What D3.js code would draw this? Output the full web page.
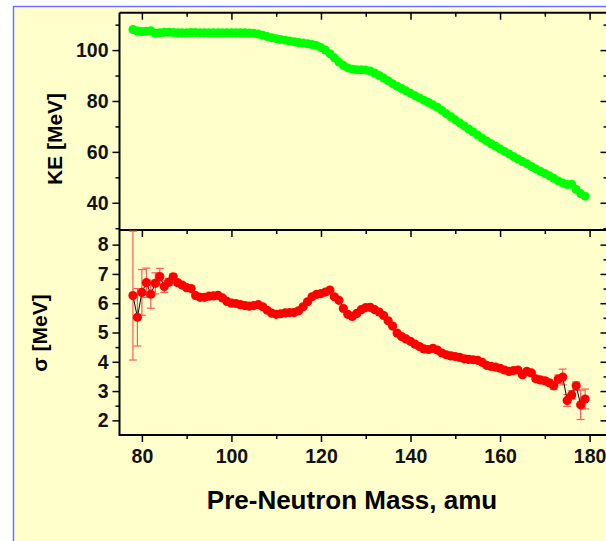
<!DOCTYPE html>
<html>
<head>
<meta charset="utf-8">
<script src="https://cdn.jsdelivr.net/npm/d3@7/dist/d3.min.js"></script>
<style>
  html, body { margin: 0; padding: 0; background: #fff; }
  svg { display: block; }
  .tick text { font-family: "Liberation Sans", Arial, sans-serif; font-weight: bold; }
</style>
</head>
<body>
<div id="chart"></div>
<script>
// masses 78..179 (one point per amu)
const mass = [78,79,80,81,82,83,84,85,86,87,88,89,90,91,92,93,94,95,96,97,98,99,
  100,101,102,103,104,105,106,107,108,109,110,111,112,113,114,115,116,117,118,119,
  120,121,122,123,124,125,126,127,128,129,130,131,132,133,134,135,136,137,138,139,
  140,141,142,143,144,145,146,147,148,149,150,151,152,153,154,155,156,157,158,159,
  160,161,162,163,164,165,166,167,168,169,170,171,172,173,174,175,176,177,178,179];

// mean kinetic energy, MeV
const keMean = [108.1,107.5,107.3,107.4,107.6,106.6,106.8,107.0,107.0,106.9,106.8,106.8,106.8,106.9,106.9,106.8,106.8,106.8,106.8,106.8,106.8,106.8,
  106.8,106.8,106.8,106.8,106.7,106.6,106.3,105.8,105.3,104.9,104.5,104.2,103.9,103.6,103.3,103.0,102.8,102.5,102.2,101.8,
  101.0,100.0,98.6,97.0,95.3,94.0,93.0,92.5,92.3,92.3,92.2,91.8,91.0,90.0,89.0,88.0,86.8,85.8,84.9,84.0,
  83.0,82.1,81.2,80.3,79.4,78.5,77.5,76.3,75.0,73.8,72.6,71.4,70.2,69.0,67.8,66.6,65.4,64.3,63.2,62.2,
  61.2,60.2,59.2,58.2,57.2,56.2,55.3,54.3,53.3,52.4,51.5,50.6,49.6,48.6,47.8,47.2,47.3,45.2,43.6,42.6];

// width of KE distribution, MeV
const sigma = [6.26,5.52,6.37,6.70,6.31,6.68,6.91,6.57,6.72,6.90,6.70,6.62,6.53,6.50,6.26,6.20,6.20,6.24,6.25,6.27,6.18,6.06,
  6.00,5.99,5.95,5.92,5.90,5.92,5.95,5.88,5.76,5.66,5.62,5.64,5.67,5.68,5.68,5.74,5.88,6.05,6.22,6.30,
  6.33,6.38,6.45,6.22,6.10,5.82,5.62,5.55,5.65,5.78,5.85,5.86,5.78,5.70,5.58,5.40,5.22,4.98,4.86,4.78,
  4.70,4.60,4.52,4.44,4.42,4.46,4.40,4.30,4.24,4.20,4.18,4.15,4.10,4.08,4.07,4.05,3.98,3.88,3.84,3.82,
  3.78,3.72,3.67,3.70,3.72,3.56,3.67,3.62,3.42,3.38,3.35,3.28,3.18,3.41,3.48,2.68,2.87,3.18,2.53,2.73];

const sigmaErr = [2.20,0.98,0.78,0.50,0.48,0.36,0.28,0.20,0.12,0.10,0.08,0.08,0.07,0.07,0.06,0.06,0.06,0.06,0.05,0.05,0.05,0.05,
  0.05,0.05,0.05,0.05,0.05,0.05,0.05,0.05,0.05,0.05,0.05,0.05,0.05,0.05,0.05,0.05,0.05,0.05,0.05,0.05,
  0.05,0.05,0.05,0.05,0.05,0.05,0.05,0.05,0.05,0.05,0.05,0.05,0.05,0.05,0.05,0.05,0.05,0.05,0.05,0.05,
  0.05,0.05,0.05,0.05,0.05,0.05,0.05,0.05,0.05,0.05,0.05,0.05,0.05,0.05,0.05,0.05,0.05,0.06,0.06,0.06,
  0.06,0.06,0.06,0.07,0.07,0.07,0.08,0.08,0.08,0.09,0.10,0.10,0.12,0.14,0.27,0.20,0.14,0.13,0.50,0.34];

const xTicks = [80, 100, 120, 140, 160, 180];
const keTicks = [40, 60, 80, 100];
const sigmaTicks = [2, 3, 4, 5, 6, 7, 8];

const width = 606, height = 541;
const left = 119.5, right = 607.5;
const topY = 12.7, midY = 230, bottomY = 435;

const svg = d3.select("#chart").append("svg")
  .attr("width", width)
  .attr("height", height);

// page frame
svg.append("rect")
  .attr("x", 13.5).attr("y", 6.5)
  .attr("width", 640).attr("height", 600)
  .attr("fill", "#ffffcc")
  .attr("stroke", "#7070ff")
  .attr("stroke-width", 1.5);

const x = d3.scaleLinear().domain([75, 184]).range([left, right]);
const yKE = d3.scaleLinear().domain([29.3, 114.7]).range([midY, topY]);
const ySig = d3.scaleLinear().domain([1.5, 8.5]).range([bottomY, midY]);

const minorX = d3.range(80, 185, 10).filter(v => !xTicks.includes(v));
const minorKE = [30, 50, 70, 90, 110];
const minorSig = d3.range(2.5, 8.5, 1);

function styleAxis(g) {
  g.select(".domain").remove();
  g.selectAll(".tick line").attr("stroke", "#000").attr("stroke-width", 1.5);
  g.selectAll(".tick text").attr("fill", "#111").style("font-size", "19.5px");
}

// axes: major + minor ticks on each side
function drawAxis(axisFn, scale, transform, major, minor, inner, labels) {
  const gMaj = svg.append("g").attr("transform", transform)
    .call(axisFn(scale).tickValues(major).tickSize(inner ? -7 : 7)
      .tickPadding(inner ? 0 : 4).tickFormat(labels ? d3.format("d") : ""));
  styleAxis(gMaj);
  const gMin = svg.append("g").attr("transform", transform)
    .call(axisFn(scale).tickValues(minor).tickSize(inner ? -4 : 4).tickFormat(""));
  styleAxis(gMin);
  return gMaj;
}

// top panel
drawAxis(d3.axisLeft, yKE, `translate(${left},0)`, keTicks, minorKE, false, true);
drawAxis(d3.axisRight, yKE, `translate(${right},0)`, keTicks, minorKE, true, false);
drawAxis(d3.axisTop, x, `translate(0,${topY})`, xTicks, minorX, true, false);
// bottom panel
drawAxis(d3.axisLeft, ySig, `translate(${left},0)`, sigmaTicks, minorSig, false, true);
drawAxis(d3.axisRight, ySig, `translate(${right},0)`, sigmaTicks, minorSig, true, false);
drawAxis(d3.axisTop, x, `translate(0,${midY})`, xTicks, minorX, true, false);
const xAx = drawAxis(d3.axisBottom, x, `translate(0,${bottomY})`, xTicks, minorX, false, true);
xAx.selectAll(".tick text").attr("dy", "0.85em");

// frame lines
const frame = svg.append("g").attr("stroke", "#000").attr("stroke-width", 2).attr("fill", "none");
frame.append("line").attr("x1", left).attr("x2", left).attr("y1", topY).attr("y2", bottomY + 1);
frame.append("line").attr("x1", left).attr("x2", right).attr("y1", topY).attr("y2", topY);
frame.append("line").attr("x1", left).attr("x2", right).attr("y1", midY).attr("y2", midY);
frame.append("line").attr("x1", left).attr("x2", right).attr("y1", bottomY).attr("y2", bottomY);

const ke = mass.map((m, i) => ({ m, v: keMean[i] }));
const sg = mass.map((m, i) => ({ m, v: sigma[i], e: sigmaErr[i] }));

// KE markers
svg.append("g").selectAll("circle").data(ke).join("circle")
  .attr("cx", d => x(d.m))
  .attr("cy", d => yKE(d.v))
  .attr("r", 4.5)
  .attr("fill", "#00ff00");

// sigma error bars
const eb = svg.append("g").attr("stroke", "#ff5a5a").attr("stroke-width", 1.2);
sg.forEach(d => {
  const y1 = ySig(Math.min(d.v + d.e, 8.5)), y2 = ySig(d.v - d.e);
  eb.append("line").attr("x1", x(d.m)).attr("x2", x(d.m)).attr("y1", y1).attr("y2", y2);
  eb.append("line").attr("x1", x(d.m) - 4).attr("x2", x(d.m) + 4).attr("y1", y1).attr("y2", y1);
  eb.append("line").attr("x1", x(d.m) - 4).attr("x2", x(d.m) + 4).attr("y1", y2).attr("y2", y2);
});

// thin connecting line
svg.append("path")
  .datum(sg)
  .attr("fill", "none")
  .attr("stroke", "#000")
  .attr("stroke-width", 1)
  .attr("d", d3.line().x(d => x(d.m)).y(d => ySig(d.v)));

svg.append("g").selectAll("circle").data(sg).join("circle")
  .attr("cx", d => x(d.m))
  .attr("cy", d => ySig(d.v))
  .attr("r", 4.6)
  .attr("fill", "#ff0000");

// axis titles
const font = '"Liberation Sans", Arial, sans-serif';
svg.append("text")
  .attr("transform", `translate(62,139) rotate(-90)`)
  .attr("text-anchor", "middle")
  .style("font-family", font).style("font-weight", "bold").style("font-size", "21px")
  .text("KE [MeV]");

svg.append("text")
  .attr("transform", `translate(47,333) rotate(-90)`)
  .attr("text-anchor", "middle")
  .style("font-family", font).style("font-weight", "bold").style("font-size", "21px")
  .text("σ [MeV]");

svg.append("text")
  .attr("x", 352).attr("y", 509)
  .attr("text-anchor", "middle")
  .style("font-family", font).style("font-weight", "bold").style("font-size", "26px")
  .text("Pre-Neutron Mass, amu");
</script>
</body>
</html>
